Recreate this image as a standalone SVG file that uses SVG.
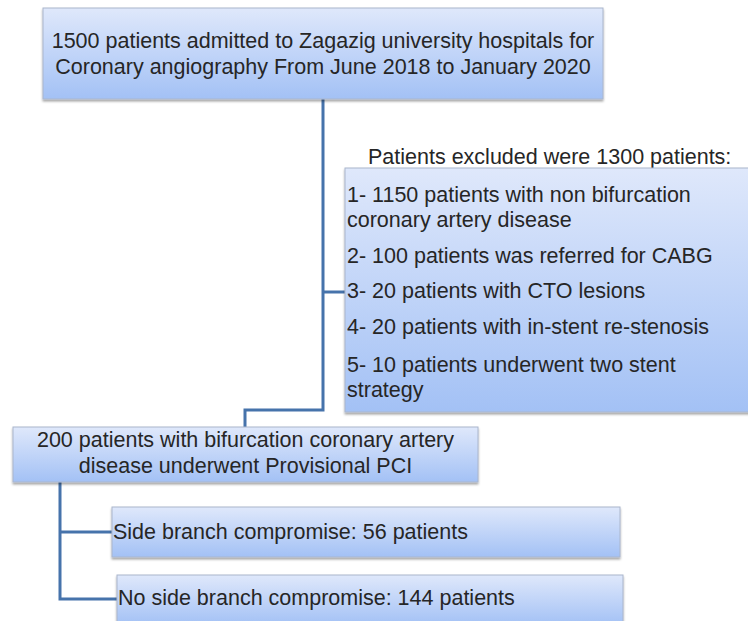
<svg xmlns="http://www.w3.org/2000/svg" width="748" height="621" viewBox="0 0 748 621">
<defs>
  <linearGradient id="g" x1="0" y1="0" x2="0" y2="1">
    <stop offset="0" stop-color="#dfe8fb"/>
    <stop offset="1" stop-color="#a3c1f5"/>
  </linearGradient>
  <filter id="sh" x="-5%" y="-10%" width="110%" height="130%">
    <feDropShadow dx="0" dy="2" stdDeviation="1.2" flood-color="#000" flood-opacity="0.35"/>
  </filter>
</defs>
<style>
  .box{fill:url(#g);stroke:#aab6cc;stroke-width:1;filter:url(#sh)}
  .t{font-family:"Liberation Sans",Arial,sans-serif;font-size:21.5px;fill:#262626}
  .c{text-anchor:middle}
  .ln{fill:none;stroke:#4673ab;stroke-width:3}
</style>
<rect width="748" height="621" fill="#fff"/>
<g id="connectors">
  <polyline class="ln" points="323,99 323,410 245,410 245,427"/>
  <line class="ln" x1="323" y1="292" x2="345" y2="292"/>
  <polyline class="ln" points="60,482 60,599 117,599"/>
  <line class="ln" x1="60" y1="532" x2="112" y2="532"/>
</g>
<g id="admitted">
  <rect class="box" x="43" y="8" width="560" height="91"/>
  <text class="t c" x="323" y="48">1500 patients admitted to Zagazig university hospitals for</text>
  <text class="t c" x="323" y="74">Coronary angiography From June 2018 to January 2020</text>
</g>
<g id="excluded">
  <text class="t" x="368" y="164">Patients excluded were 1300 patients:</text>
  <rect class="box" x="345" y="168" width="405" height="244"/>
  <text class="t" x="347" y="202">1- 1150 patients with non bifurcation</text>
  <text class="t" x="347" y="227">coronary artery disease</text>
  <text class="t" x="347" y="263">2- 100 patients was referred for CABG</text>
  <text class="t" x="347" y="298">3- 20 patients with CTO lesions</text>
  <text class="t" x="347" y="334">4- 20 patients with in-stent re-stenosis</text>
  <text class="t" x="347" y="372">5- 10 patients underwent two stent</text>
  <text class="t" x="347" y="397">strategy</text>
</g>
<g id="bifurcation">
  <rect class="box" x="13" y="427" width="465" height="55"/>
  <text class="t c" x="245.5" y="447">200 patients with bifurcation coronary artery</text>
  <text class="t c" x="245.5" y="473">disease underwent Provisional PCI</text>
</g>
<g id="side-branch">
  <rect class="box" x="112" y="507" width="508" height="50"/>
  <text class="t" x="113" y="539">Side branch compromise: 56 patients</text>
</g>
<g id="no-side-branch">
  <rect class="box" x="117" y="575" width="506" height="50"/>
  <text class="t" x="118" y="605">No side branch compromise: 144 patients</text>
</g>
</svg>
